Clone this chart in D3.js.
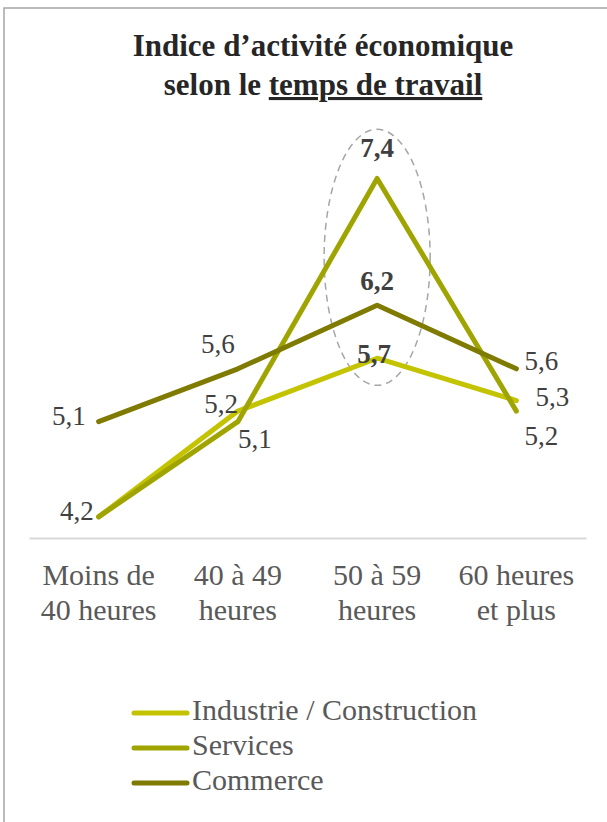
<!DOCTYPE html>
<html>
<head>
<meta charset="utf-8">
<script src="https://cdn.jsdelivr.net/npm/d3@7"></script>
<style>
  html, body { margin: 0; padding: 0; background: #fff; }
  svg { display: block; }
</style>
</head>
<body>
<div id="chart"></div>
<script>
// Data ---------------------------------------------------------------------------------------------
const categories = ["Moins de|40 heures", "40 à 49|heures", "50 à 59|heures", "60 heures|et plus"];
const seriesNames = ["Industrie / Construction", "Services", "Commerce"];
const industrie = [4.2, 5.2, 5.7, 5.3];
const services = [4.2, 5.1, 7.4, 5.2];
const commerce = [5.1, 5.6, 6.2, 5.6];

// Styles & label placement (not data) ------------------------------------------------------------
const colors = ["#C3C300", "#A0A400", "#7F7A00"];
// [anchor, dx, dy, bold] per point; null = no label
const labelPlace = [
  [["end", -5, 3, false], ["end", 0, 2, false], ["middle", -3, 5, true], ["start", 19, 5, false]],
  [null, ["start", 0, 26, false], ["middle", 0, -21, true], ["start", 8, 34, false]],
  [["end", -13, 3, false], ["middle", -20, -16, false], ["middle", 0, -15, true], ["start", 8, 1, false]]
];

const series = seriesNames.map((name, i) => ({
  name,
  values: [industrie, services, commerce][i].map((v, j) => ({cat: categories[j], v, j}))
}));

// Dimensions -----------------------------------------------------------------------------------------
const width = 607, height = 822;
const font = "'Palatino Linotype', 'Book Antiqua', Palatino, 'Liberation Serif', serif";

const svg = d3.select("#chart").append("svg")
  .attr("width", width)
  .attr("height", height);

// Frame
svg.append("rect")
  .attr("x", 4).attr("y", 8)
  .attr("width", width + 20).attr("height", height + 20)
  .attr("fill", "none")
  .attr("stroke", "#A6A6A6")
  .attr("stroke-width", 1.5);

// Title
const title = svg.append("text")
  .attr("text-anchor", "middle")
  .attr("font-family", font)
  .attr("font-weight", "bold")
  .attr("font-size", 31)
  .attr("fill", "#262626");
title.append("tspan").attr("x", 323).attr("y", 56).text("Indice d’activité économique");
const l2 = title.append("tspan").attr("x", 323).attr("y", 95);
l2.append("tspan").text("selon le ");
l2.append("tspan").style("text-decoration", "underline").text("temps de travail");

// Scales ---------------------------------------------------------------------------------------------
const x = d3.scaleBand().domain(categories).range([29, 586]);
const y = d3.scaleLinear().domain([4, 8]).range([538, 115]);
const cx = c => x(c) + x.bandwidth() / 2;

// Axis
const xAxis = svg.append("g")
  .attr("transform", `translate(0,${y(4)})`)
  .call(d3.axisBottom(x).tickSize(0).tickSizeOuter(0));
xAxis.select(".domain").attr("stroke", "#D9D9D9").attr("stroke-width", 2);
xAxis.selectAll(".tick text").each(function(d) {
  const t = d3.select(this).text(null)
    .attr("font-family", font)
    .attr("font-size", 30)
    .attr("fill", "#595959")
    .attr("y", 0).attr("dy", null);
  d.split("|").forEach((s, i) => {
    t.append("tspan").attr("x", 0).attr("y", 47 + i * 35).text(s);
  });
});

// Highlight ellipse
svg.append("ellipse")
  .attr("cx", cx(categories[2]))
  .attr("cy", (y(7.4) + y(5.7)) / 2 - 11)
  .attr("rx", 53)
  .attr("ry", 128)
  .attr("fill", "none")
  .attr("stroke", "#A6A6A6")
  .attr("stroke-width", 1.5)
  .attr("stroke-dasharray", "7,5");

// Lines ----------------------------------------------------------------------------------------------
const line = d3.line()
  .x(d => cx(d.cat))
  .y(d => y(d.v));

svg.selectAll(".series")
  .data(series)
  .join("path")
  .attr("class", "series")
  .attr("d", d => line(d.values))
  .attr("fill", "none")
  .attr("stroke", (d, i) => colors[i])
  .attr("stroke-width", 5)
  .attr("stroke-linecap", "round")
  .attr("stroke-linejoin", "round");

// Data labels
series.forEach((s, i) => {
  s.values.forEach(p => {
    const pl = labelPlace[i][p.j];
    if (!pl) return;
    svg.append("text")
      .attr("x", cx(p.cat) + pl[1])
      .attr("y", y(p.v) + pl[2])
      .attr("text-anchor", pl[0])
      .attr("font-family", font)
      .attr("font-size", 27)
      .attr("font-weight", pl[3] ? "bold" : "normal")
      .attr("fill", "#404040")
      .text(d3.format(".1f")(p.v).replace(".", ","));
  });
});

// Legend ---------------------------------------------------------------------------------------------
const legend = svg.append("g");
seriesNames.forEach((name, i) => {
  const by = 720 + i * 35;
  legend.append("line")
    .attr("x1", 134).attr("x2", 187)
    .attr("y1", by - 7).attr("y2", by - 7)
    .attr("stroke", colors[i])
    .attr("stroke-width", 5)
    .attr("stroke-linecap", "round");
  legend.append("text")
    .attr("x", 192).attr("y", by)
    .attr("font-family", font)
    .attr("font-size", 30)
    .attr("fill", "#595959")
    .text(name);
});
</script>
</body>
</html>
